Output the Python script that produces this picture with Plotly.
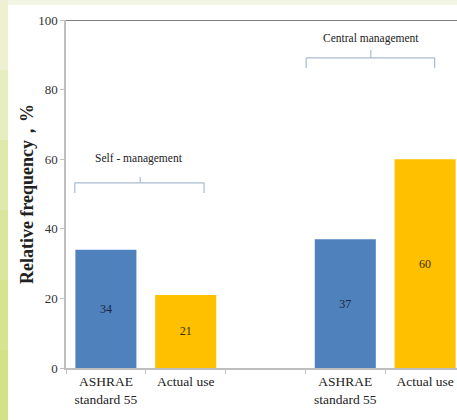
import plotly.graph_objects as go

# ---- data ----
cat_ids = ["self_ashrae", "self_actual", "gap", "central_ashrae", "central_actual"]
cat_labels = ["ASHRAE<br>standard 55", "Actual use", "", "ASHRAE<br>standard 55", "Actual use"]
ashrae_ids = ["self_ashrae", "central_ashrae"]
ashrae_vals = [34, 37]
actual_ids = ["self_actual", "central_actual"]
actual_vals = [21, 60]
group_names = ["Self - management", "Central management"]
y_ticks = [0, 20, 40, 60, 80, 100]

W, H = 457, 420
ML, MR, MT, MB = 66, 0, 20, 52
pw, ph = W - ML - MR, H - MT - MB

def px_x(p):
    return (p - ML) / pw

def px_y(p):
    return (H - MB - p) / ph

SERIF = "Liberation Serif, Times New Roman, serif"
BLUE = "#4F81BD"
YELLOW = "#FFC000"

fig = go.Figure()
fig.add_trace(go.Bar(
    x=ashrae_ids, y=ashrae_vals, marker=dict(color=BLUE, line=dict(width=0)),
    width=0.765, text=[str(v) for v in ashrae_vals], textposition="inside",
    insidetextanchor="middle", textangle=0, constraintext="none",
    textfont=dict(family=SERIF, size=12, color="#1b2540"), hoverinfo="skip"))
fig.add_trace(go.Bar(
    x=actual_ids, y=actual_vals, marker=dict(color=YELLOW, line=dict(width=0)),
    width=0.765, text=[str(v) for v in actual_vals], textposition="inside",
    insidetextanchor="middle", textangle=0, constraintext="none",
    textfont=dict(family=SERIF, size=12, color="#3a2a00"), hoverinfo="skip"))

shapes = []
# background decoration: pale top band and green left strip
shapes.append(dict(type="rect", xref="paper", yref="paper", x0=px_x(0), x1=px_x(W),
                   y0=px_y(5), y1=px_y(0), fillcolor="#F3F5E4", line=dict(width=0), layer="below"))
bands = ["#EDF1D2", "#E6EDBE", "#DFE9AC", "#DAE69C", "#D6E48F", "#D3E286"]
nb = len(bands)
for i, c in enumerate(bands):
    shapes.append(dict(type="rect", xref="paper", yref="paper", x0=px_x(0), x1=px_x(8),
                       y0=px_y(H * (i + 1) / nb), y1=px_y(H * i / nb),
                       fillcolor=c, line=dict(width=0), layer="below"))
# top line at 100
shapes.append(dict(type="line", xref="paper", yref="y", x0=0, x1=1, y0=100, y1=100,
                   line=dict(color="#7F7F7F", width=2)))

# brackets (data coordinates)
BR = "#A9BCCF"
def bracket(xa, xb, yh, ye, xc, yt):
    return [
        dict(type="line", xref="x", yref="y", x0=xa, x1=xb, y0=yh, y1=yh, line=dict(color=BR, width=1.2)),
        dict(type="line", xref="x", yref="y", x0=xa, x1=xa, y0=yh, y1=ye, line=dict(color=BR, width=1.2)),
        dict(type="line", xref="x", yref="y", x0=xb, x1=xb, y0=yh, y1=ye, line=dict(color=BR, width=1.2)),
        dict(type="line", xref="x", yref="y", x0=xc, x1=xc, y0=yh, y1=yt, line=dict(color=BR, width=1.2)),
    ]
shapes += bracket(-0.39, 1.23, 53.2, 50.3, 0.43, 54.9)
shapes += bracket(2.51, 4.12, 89.1, 86.2, 3.32, 91.4)

annotations = [
    dict(x=0.42, y=60.3, xref="x", yref="y", text=group_names[0], showarrow=False,
         font=dict(family=SERIF, size=11.5, color="#222")),
    dict(x=3.32, y=94.8, xref="x", yref="y", text=group_names[1], showarrow=False,
         font=dict(family=SERIF, size=11.5, color="#222")),
]

fig.update_layout(
    width=W, height=H, margin=dict(l=ML, r=MR, t=MT, b=MB),
    paper_bgcolor="white", plot_bgcolor="white",
    showlegend=False, bargap=0.2,
    shapes=shapes, annotations=annotations,
    xaxis=dict(type="category", categoryorder="array", categoryarray=cat_ids,
               tickmode="array", tickvals=cat_ids, ticktext=cat_labels,
               tickson="boundaries", ticks="outside", ticklen=4, tickcolor="#BFBFBF",
               range=[-0.5, 4.4], showline=True, linecolor="#BFBFBF", linewidth=1.5,
               showgrid=False, zeroline=False,
               tickfont=dict(family=SERIF, size=13.5, color="#222")),
    yaxis=dict(range=[0, 100], tickvals=y_ticks, ticks="outside", ticklen=4,
               tickcolor="#BFBFBF", showline=True, linecolor="#BFBFBF", linewidth=1.5,
               showgrid=False, zeroline=False,
               tickfont=dict(family=SERIF, size=13, color="#333"),
               title=dict(text="<b>Relative frequency，%</b>", standoff=0,
                          font=dict(family=SERIF, size=18, color="#222"))),
)

fig.write_html("out.html", config={"displayModeBar": False},
               post_script="document.body.style.margin='0';")
